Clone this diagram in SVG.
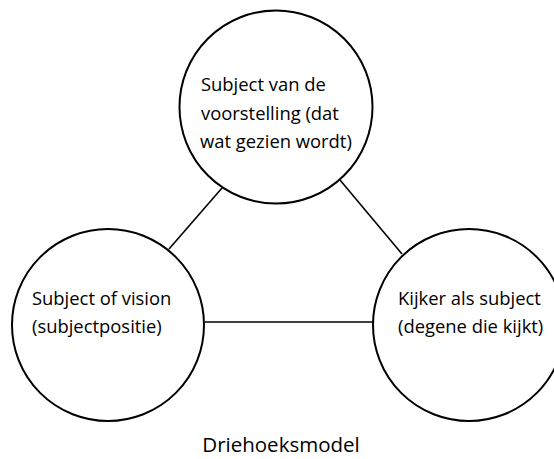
<svg xmlns="http://www.w3.org/2000/svg" width="554" height="459" viewBox="0 0 554 459">
<style>
.node circle{fill:#fff;stroke:#000;stroke-width:2}
.edge{stroke:#000;stroke-width:1.6;fill:none}
text{font-family:"Open Sans","Noto Sans",sans-serif;font-size:18.4px;fill:#000}
.caption{font-size:20.5px}
</style>
<rect width="554" height="459" fill="#fff"/>
<g id="connectors">
<line class="edge" x1="222" y1="188" x2="169" y2="249"/>
<line class="edge" x1="340" y1="180" x2="402" y2="254"/>
<line class="edge" x1="205" y1="322" x2="373" y2="322"/>
</g>
<g id="node-top" class="node">
<circle cx="276" cy="107" r="96.5"/>
<text x="201" y="91">Subject van de</text>
<text x="201" y="119.5">voorstelling (dat</text>
<text x="200" y="148">wat gezien wordt)</text>
</g>
<g id="node-left" class="node">
<circle cx="108" cy="325" r="96"/>
<text x="32" y="305">Subject of vision</text>
<text x="32" y="333">(subjectpositie)</text>
</g>
<g id="node-right" class="node">
<circle cx="469" cy="325" r="96"/>
<text x="398" y="305">Kijker als subject</text>
<text x="398" y="333">(degene die kijkt)</text>
</g>
<g id="caption">
<text class="caption" x="281" y="452" text-anchor="middle">Driehoeksmodel</text>
</g>
</svg>
